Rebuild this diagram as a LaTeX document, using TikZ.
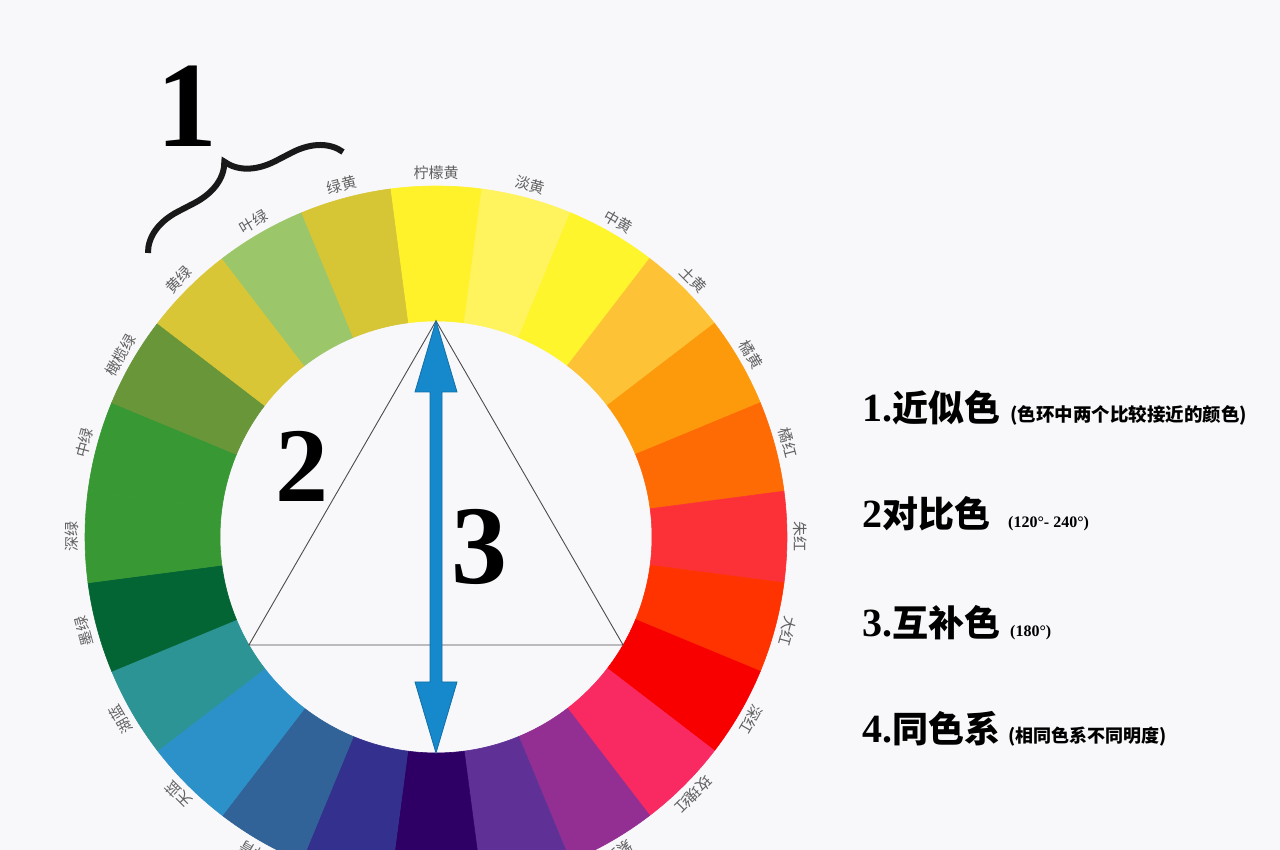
\documentclass[tikz,border=0pt]{standalone}
\usepackage{fontspec}
\setmainfont{Liberation Serif}
\newfontfamily\cjk{Noto Sans CJK SC}
\usetikzlibrary{calc,decorations.pathreplacing}
\definecolor{bg}{HTML}{F8F7FA}
\definecolor{c0}{HTML}{FFF22B}
\definecolor{c1}{HTML}{FFF35E}
\definecolor{c2}{HTML}{FFF52C}
\definecolor{c3}{HTML}{FDC235}
\definecolor{c4}{HTML}{FD9A0C}
\definecolor{c5}{HTML}{FE6B04}
\definecolor{c6}{HTML}{FC3138}
\definecolor{c7}{HTML}{FE3300}
\definecolor{c8}{HTML}{F80000}
\definecolor{c9}{HTML}{F92A62}
\definecolor{c10}{HTML}{932F92}
\definecolor{c11}{HTML}{5F3196}
\definecolor{c12}{HTML}{2E0066}
\definecolor{c13}{HTML}{34308E}
\definecolor{c14}{HTML}{316398}
\definecolor{c15}{HTML}{2D91C9}
\definecolor{c16}{HTML}{2C9494}
\definecolor{c17}{HTML}{046534}
\definecolor{c18}{HTML}{389834}
\definecolor{c19}{HTML}{389834}
\definecolor{c20}{HTML}{6A963A}
\definecolor{c21}{HTML}{D8C636}
\definecolor{c22}{HTML}{9CC66A}
\definecolor{c23}{HTML}{D6C535}
\definecolor{arrowfill}{HTML}{1589CB}
\definecolor{arrowline}{HTML}{136FA6}
\tikzset{
  lab/.style={font=\cjk\fontsize{15}{15}\selectfont, text=black!62, inner sep=0},
  tri/.style={draw=black!70, line width=0.9},
  bignum/.style={inner sep=0, font=\bfseries},
  bracestyle/.style={decorate, decoration={brace, amplitude=46}, line width=6, black!90},
  arrowshape/.style={fill=arrowfill, draw=arrowline, line width=0.8, line join=miter},
  bigtxt/.style={anchor=base west, inner sep=0},
}
\begin{document}
\begin{tikzpicture}[x=1pt,y=1pt]
\useasboundingbox (0,0) rectangle (1280,850);
\fill[bg] (0,0) rectangle (1280,850);
\clip (0,0) rectangle (1280,850);
\coordinate (C) at (436,313);
\begin{scope}[shift={(C)}]
\foreach \i/\col in {0/c0,1/c1,2/c2,3/c3,4/c4,5/c5,6/c6,7/c7,8/c8,9/c9,10/c10,11/c11,12/c12,13/c13,14/c14,15/c15,16/c16,17/c17,18/c18,19/c19,20/c20,21/c21,22/c22,23/c23} {
  \pgfmathsetmacro\a{90-15*\i}
  \fill[\col, draw=\col, line width=0.6] (\a-7.5:351) arc[start angle=\a-7.5, end angle=\a+7.5, radius=351] -- (\a+7.5:216) arc[start angle=\a+7.5, end angle=\a-7.5, radius=216] -- cycle;
}
\foreach \i/\name in {0/柠檬黄,1/淡黄,2/中黄,3/土黄,4/橘黄,5/橘红,6/朱红,7/大红,8/深红,9/玫瑰红,10/紫红,14/群青,15/天蓝,16/湖蓝,17/墨绿,18/深绿,19/中绿,20/橄榄绿,21/黄绿,22/叶绿,23/绿黄} {
  \pgfmathsetmacro\a{90-15*\i}
  \node[lab, rotate=\a-90] (L\i) at (\a:364) {\name};
}
\end{scope}
% triangle
\coordinate (P1) at ($(C)+(90:216)$);
\coordinate (P2) at ($(C)+(210:216)$);
\coordinate (P3) at ($(C)+(330:216)$);
\coordinate (PB) at ($(C)+(270:216)$);
\draw[tri] (P1) -- (P2) -- (P3) -- cycle;
% double arrow
\filldraw[arrowshape] (P1) -- ($(P1)+(21,-71)$) -- ($(P1)+(6,-71)$) -- ($(PB)+(6,71)$) -- ($(PB)+(21,71)$) -- (PB) -- ($(PB)+(-21,71)$) -- ($(PB)+(-6,71)$) -- ($(P1)+(-6,-71)$) -- ($(P1)+(-21,-71)$) -- cycle;
% big numerals
\node[bignum, font=\bfseries\fontsize{122}{122}\selectfont] (n1) at (187,744) {1};
\node[bignum, font=\bfseries\fontsize{106}{106}\selectfont] (n2) at (302,384) {2};
\node[bignum, font=\bfseries\fontsize{112}{112}\selectfont] (n3) at (479,303) {3};
% brace
\coordinate (brA) at (148,597);
\coordinate (brB) at (343,698);
\draw[bracestyle] (brA) -- (brB);
% legend
\node[bigtxt] (t1) at (862,428) {{\fontsize{40}{40}\selectfont\bfseries 1.}{\cjk\bfseries\fontsize{36}{36}\selectfont 近似色}};
\node[bigtxt] (s1) at (1010,428) {\cjk\bfseries\fontsize{18.5}{18.5}\selectfont (色环中两个比较接近的颜色)};
\node[bigtxt] (t2) at (862,322) {{\fontsize{40}{40}\selectfont\bfseries 2}{\cjk\bfseries\fontsize{36}{36}\selectfont 对比色}};
\node[bigtxt] (s2) at (1008,322) {\bfseries\fontsize{16}{16}\selectfont (120°- 240°)};
\node[bigtxt] (t3) at (862,213) {{\fontsize{40}{40}\selectfont\bfseries 3.}{\cjk\bfseries\fontsize{36}{36}\selectfont 互补色}};
\node[bigtxt] (s3) at (1010,213) {\bfseries\fontsize{16}{16}\selectfont (180°)};
\node[bigtxt] (t4) at (862,107) {{\fontsize{40}{40}\selectfont\bfseries 4.}{\cjk\bfseries\fontsize{36}{36}\selectfont 同色系}};
\node[bigtxt] (s4) at (1008,107) {\cjk\bfseries\fontsize{18}{18}\selectfont (相同色系不同明度)};
\end{tikzpicture}
\end{document}
